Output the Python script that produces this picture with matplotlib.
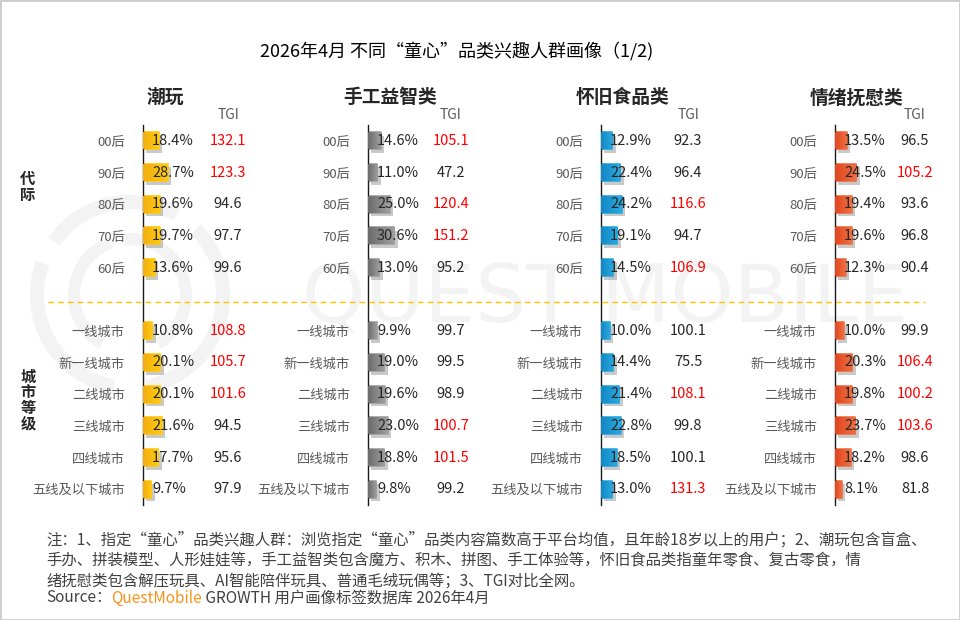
import matplotlib
matplotlib.use('Agg')
import matplotlib.pyplot as plt
import numpy as np
from matplotlib import patheffects
from matplotlib.colors import LinearSegmentedColormap
from matplotlib.lines import Line2D
from matplotlib.patches import Wedge, Rectangle

plt.rcParams['font.family'] = ['Noto Sans CJK SC', 'DejaVu Sans']

# row labels
ages = ['00后', '90后', '80后', '70后', '60后']
cities = ['一线城市', '新一线城市', '二线城市', '三线城市', '四线城市', '五线及以下城市']
categories = ['潮玩', '手工益智类', '怀旧食品类', '情绪抚慰类']

# share (%) and TGI, ages first then city tiers
chaowan_pct = [18.4, 28.7, 19.6, 19.7, 13.6, 10.8, 20.1, 20.1, 21.6, 17.7, 9.7]
chaowan_tgi = [132.1, 123.3, 94.6, 97.7, 99.6, 108.8, 105.7, 101.6, 94.5, 95.6, 97.9]
shougong_pct = [14.6, 11.0, 25.0, 30.6, 13.0, 9.9, 19.0, 19.6, 23.0, 18.8, 9.8]
shougong_tgi = [105.1, 47.2, 120.4, 151.2, 95.2, 99.7, 99.5, 98.9, 100.7, 101.5, 99.2]
huaijiu_pct = [12.9, 22.4, 24.2, 19.1, 14.5, 10.0, 14.4, 21.4, 22.8, 18.5, 13.0]
huaijiu_tgi = [92.3, 96.4, 116.6, 94.7, 106.9, 100.1, 75.5, 108.1, 99.8, 100.1, 131.3]
qingxu_pct = [13.5, 24.5, 19.4, 19.6, 12.3, 10.0, 20.3, 19.8, 23.7, 18.2, 8.1]
qingxu_tgi = [96.5, 105.2, 93.6, 96.8, 90.4, 99.9, 106.4, 100.2, 103.6, 98.6, 81.8]

pcts = [chaowan_pct, shougong_pct, huaijiu_pct, qingxu_pct]
tgis = [chaowan_tgi, shougong_tgi, huaijiu_tgi, qingxu_tgi]
grads = [('#F2AE12', '#FFCB0F'), ('#6B6B6B', '#A0A0A0'),
         ('#1287C4', '#2BAAE0'), ('#E0461E', '#F07045')]

labels = ages + cities
rows = list(range(5)) + list(range(6, 12))

W, H = 960, 620
fig = plt.figure(figsize=(9.6, 6.2), dpi=100)
fig.patch.set_facecolor('white')

# watermark
bg = fig.add_axes([0, 0, 1, 1], zorder=-5)
bg.set_xlim(0, W)
bg.set_ylim(H, 0)
bg.axis('off')
wm = '#F3F3F3'
for t1, t2 in [(100, 200), (215, 300), (315, 80)]:
    bg.add_patch(Wedge((130, 295), 100, t1, t2, width=14, color=wm, lw=0))
for t1, t2 in [(120, 250), (265, 60)]:
    bg.add_patch(Wedge((130, 295), 62, t1, t2, width=12, color=wm, lw=0))
bg.text(605, 300, 'QUEST MOBILE', ha='center', va='center', fontsize=58,
        color=wm, family='DejaVu Sans')

axis_x = [143, 368, 601, 835]
tgi_off = [85, 83, 87, 80]
px_per = 0.86  # pixels per percentage point
aw = 125

for i, cat in enumerate(categories):
    ax = fig.add_axes([axis_x[i] / W, (H - 505) / H, aw / W, 380 / H])
    ax.patch.set_visible(False)
    cmap = LinearSegmentedColormap.from_list('g%d' % i, grads[i])
    bars = ax.barh(rows, pcts[i], height=0.54, color=grads[i][1],
                   edgecolor=grads[i][1], linewidth=1.2, joinstyle='round')
    grad = np.linspace(0, 1, 64).reshape(1, -1)
    for b, r, p in zip(bars, rows, pcts[i]):
        b.set_path_effects([patheffects.SimplePatchShadow(offset=(2.5, -2.5), shadow_rgbFace='#7a7a7a', alpha=0.4),
                            patheffects.Normal()])
        im = ax.imshow(grad, extent=(0, p, r + 0.27, r - 0.27), aspect='auto',
                       cmap=cmap, zorder=3)
        im.set_clip_path(b)
    for r, p, t in zip(rows, pcts[i], tgis[i]):
        ax.text(9 / px_per, r, '%.1f%%' % p, ha='left', va='center',
                fontsize=10.5, color='#262626', zorder=5)
        ax.text(tgi_off[i] / px_per, r, '%.1f' % t, ha='center', va='center',
                fontsize=10.5, color='#FF0000' if t > 100.1 else '#262626')
    ax.text(tgi_off[i] / px_per, -0.82, 'TGI', ha='center', va='center',
            fontsize=10, color='#595959', clip_on=False)
    ax.text(22 / px_per, -1.36, cat, ha='center', va='center', fontsize=13.5,
            fontweight='bold', color='#262626', clip_on=False)

    ax.set_xlim(0, aw / px_per)
    ax.set_ylim(11.5, -0.5)
    ax.set_yticks(rows)
    ax.set_yticklabels(labels, fontsize=9.5, color='#595959')
    ax.tick_params(axis='y', length=0, pad=13)
    ax.set_xticks([])
    for s in ['top', 'right', 'bottom']:
        ax.spines[s].set_visible(False)
    ax.spines['left'].set_color('#1a1a1a')
    ax.spines['left'].set_linewidth(1)

# dashed separator
fig.add_artist(Line2D([48 / W, 925 / W], [1 - 302 / H] * 2, transform=fig.transFigure,
                      color='#FFC000', lw=1, linestyle=(0, (4, 3))))

# group labels
fig.text(28 / W, 1 - 187 / H, '代\n际', ha='center', va='center', fontsize=11,
         fontweight='bold', color='#262626', linespacing=0.95)
fig.text(28 / W, 1 - 400 / H, '城\n市\n等\n级', ha='center', va='center', fontsize=11,
         fontweight='bold', color='#262626', linespacing=0.95)

# title
fig.text(457 / W, 1 - 52 / H, '2026年4月 不同“童心”品类兴趣人群画像（1/2)',
         ha='center', va='center', fontsize=13, color='#000000')

# footnote
fs = 11.1
notes = ['注：1、指定“童心”品类兴趣人群：浏览指定“童心”品类内容篇数高于平台均值，且年龄18岁以上的用户；2、潮玩包含盲盒、',
         '手办、拼装模型、人形娃娃等，手工益智类包含魔方、积木、拼图、手工体验等，怀旧食品类指童年零食、复古零食，情',
         '绪抚慰类包含解压玩具、AI智能陪伴玩具、普通毛绒玩偶等；3、TGI对比全网。']
for k, line in enumerate(notes):
    fig.text(46 / W, 1 - (540 + 20.5 * k) / H, line, ha='left', va='center',
             fontsize=fs, color='#404040')
src = fig.text(46 / W, 1 - 598 / H, 'Source：', ha='left', va='center',
               fontsize=fs, color='#404040')
qm = plt.annotate('QuestMobile', xy=(1, 0.5), xycoords=src, ha='left', va='center',
                  fontsize=fs, color='#F7941D')
plt.annotate(' GROWTH 用户画像标签数据库 2026年4月', xy=(1, 0.5), xycoords=qm,
             ha='left', va='center', fontsize=fs, color='#404040')

# frame
fig.add_artist(Rectangle((0, 0), 1, 1, transform=fig.transFigure, fill=False,
                         edgecolor='#CCCCCC', lw=2))

fig.savefig('out.png', dpi=100)
